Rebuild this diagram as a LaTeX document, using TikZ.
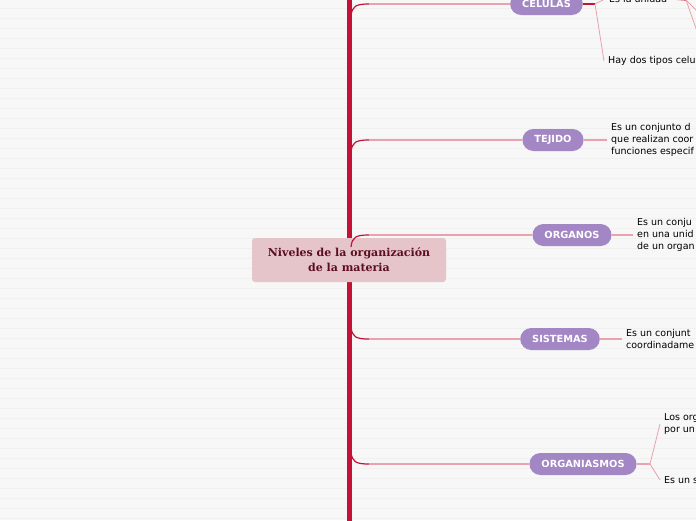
\documentclass[tikz,border=0pt]{standalone}
\usepackage{fontspec}
\setmainfont{DejaVu Sans}
\newfontfamily\tituloFont{DejaVu Serif}
\usetikzlibrary{calc}
\definecolor{nivFondo}{HTML}{F7F7F7}
\definecolor{nivRaya}{HTML}{F0F0F0}
\definecolor{nivCrimson}{HTML}{C41236}
\definecolor{nivRosa}{HTML}{E9A2AE}
\definecolor{nivLila}{HTML}{A386C4}
\definecolor{nivTitulo}{HTML}{E6C5CA}
\definecolor{nivVino}{HTML}{5B0E20}

\tikzset{
  pill/.style={rounded corners=11pt, fill=nivLila, text=white, minimum height=22pt,
    inner xsep=12pt, font=\bfseries\fontsize{9.8}{11}\selectfont},
  nota/.style={anchor=west, align=left, inner xsep=4pt, inner ysep=0pt,
    text=black, font=\fontsize{9.5}{12}\selectfont},
  curva/.style={nivCrimson, line width=1.2pt},
  rama/.style={nivRosa, line width=1.4pt},
  fina/.style={nivRosa, line width=0.8pt},
}

\begin{document}
\begin{tikzpicture}[x=1pt, y=-1pt]
  \useasboundingbox (0,0) rectangle (696,520);
  \fill[nivFondo] (0,0) rectangle (696,520);
  \foreach \y in {8.5,18.5,...,518.5}
    \draw[nivRaya, line width=1.1pt] (0,\y) -- (696,\y);

  % Trunk
  \coordinate (trunkTop) at (349,-5);
  \coordinate (trunkBot) at (349,525);
  \draw[nivCrimson, line width=5pt] (trunkTop) -- (trunkBot);

  % Central topic
  \node[fill=nivTitulo, rounded corners=3pt, minimum width=194pt, minimum height=44pt,
    align=center, text=nivVino, font=\tituloFont\bfseries\fontsize{11}{15}\selectfont]
    (niveles) at (349,260) {Niveles de la organización\\de la materia};

  % Main topics
  \node[pill] (celulas) at (546.5,4) {CELULAS};
  \node[pill] (tejido) at (553,140) {TEJIDO};
  \node[pill] (organos) at (572,235) {ORGANOS};
  \node[pill] (sistemas) at (560,339) {SISTEMAS};
  \node[pill] (organismos) at (583,464) {ORGANIASMOS};

  % Branches from the trunk
  \coordinate (tCel) at (351,16);
  \coordinate (tTej) at (351,152);
  \coordinate (tOrg) at (351,247);
  \coordinate (tSis) at (351,327);
  \coordinate (tOrm) at (351,452);
  \draw[curva] (tCel) .. controls (352,6) and (356,4) .. (369,4);
  \draw[rama] (369,4) -- (celulas.west);
  \draw[curva] (tTej) .. controls (352,142) and (356,140) .. (369,140);
  \draw[rama] (369,140) -- (tejido.west);
  \draw[curva] (tOrg) .. controls (352,237) and (356,235) .. (369,235);
  \draw[rama] (369,235) -- (organos.west);
  \draw[curva] (tSis) .. controls (352,337) and (356,339) .. (369,339);
  \draw[rama] (369,339) -- (sistemas.west);
  \draw[curva] (tOrm) .. controls (352,462) and (356,464) .. (369,464);
  \draw[rama] (369,464) -- (organismos.west);

  % Celulas
  \coordinate (celJunta) at (595,4);
  \node[nota] (celUnidad) at (605,-1) {Es la unidad};
  \node[nota] (celTipos) at (604,61) {Hay dos tipos celu};
  \draw[curva] (celulas.east) -- (celJunta);
  \draw[fina] (celJunta) -- (celUnidad.west);
  \draw[fina] (celJunta) -- (celTipos.west);
  \coordinate (celJunta2) at (686,0);
  \coordinate (celFin1) at (698,12);
  \coordinate (celFin2) at (698,34);
  \draw[curva] (celUnidad.east) -- (celJunta2);
  \draw[fina] (celJunta2) -- (celFin1);
  \draw[fina] (celJunta2) -- (celFin2);

  % Tejido
  \node[nota] (tejidoTxt) at (607,140) {Es un conjunto d\\que realizan coor\\funciones especif};
  \draw[rama] (tejido.east) -- (tejidoTxt.west);

  % Organos
  \node[nota] (organosTxt) at (633,235) {Es un conju\\en una unid\\de un organ};
  \draw[rama] (organos.east) -- (organosTxt.west);

  % Sistemas
  \node[nota] (sistemasTxt) at (622,339) {Es un conjunt\\coordinadame};
  \draw[rama] (sistemas.east) -- (sistemasTxt.west);

  % Organismos
  \coordinate (ormJunta) at (650,464);
  \node[nota] (ormLos) at (660,424) {Los org\\por un};
  \node[nota] (ormEs) at (660,480) {Es un s};
  \draw[rama] (organismos.east) -- (ormJunta);
  \draw[fina] (ormJunta) -- (ormLos.west);
  \draw[fina] (ormJunta) -- (ormEs.west);
\end{tikzpicture}
\end{document}
